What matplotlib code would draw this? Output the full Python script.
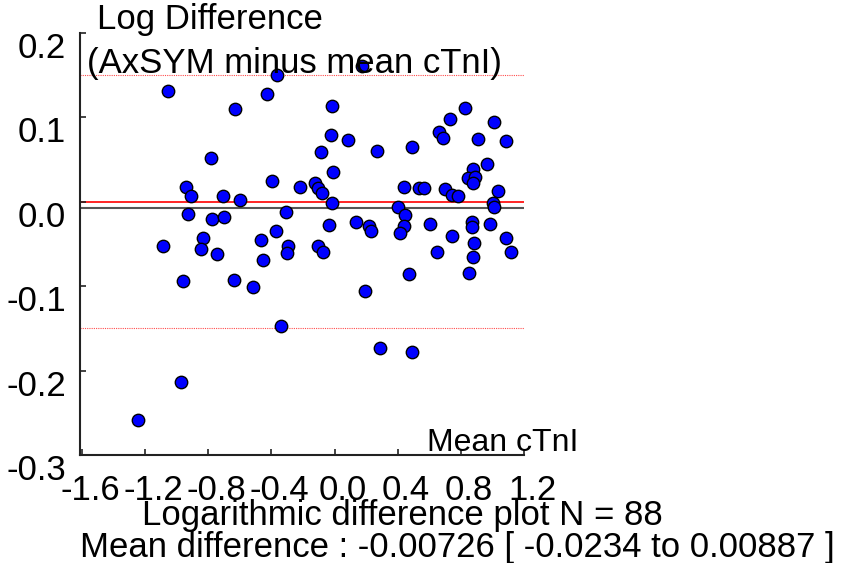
import numpy as np
import matplotlib
matplotlib.use('Agg')
import matplotlib.pyplot as plt
from matplotlib.transforms import ScaledTranslation

plt.rcParams['font.family'] = ['Liberation Sans', 'DejaVu Sans']
plt.rcParams['axes.unicode_minus'] = False

# mean of the two cTnI assays (log scale) and their log difference
mean_ctni = [-1.054, -0.630, -0.782, -0.940, -0.909, -0.706, -0.598, -0.928, -0.776, -0.700,
             -0.833, -1.086, -0.845, -0.744, -0.959, -0.636, -0.364, 0.174, -0.427, -0.016,
             -0.022, 0.086, -0.085, 0.269, -0.009, -0.396, -0.218, -0.123, -0.104, -0.079,
             -0.016, -0.307, -0.035, 0.136, 0.219, 0.231, -0.370, -0.465, -0.294, -0.301,
             -0.104, -0.073, -0.453, -0.516, 0.193, 0.827, 0.732, 1.010, 0.662, 0.687,
             0.491, 0.909, 1.086, 0.966, 0.877, 0.846, 0.890, 0.877, 0.440, 0.535,
             0.567, 0.700, 0.744, 0.782, 1.036, 1.004, 1.010, 0.402, 0.447, 0.440,
             0.415, 0.605, 0.871, 0.871, 0.985, 0.744, 0.884, 1.086, 1.118, 0.649,
             0.877, 0.472, 0.852, -0.339, 0.288, 0.491, -0.972, -1.244]
log_diff = [0.131, 0.110, 0.052, 0.018, 0.007, 0.007, 0.002, -0.014, -0.020, -0.018,
            -0.043, -0.052, -0.056, -0.062, -0.094, -0.093, 0.150, 0.161, 0.128, 0.114,
            0.079, 0.073, 0.059, 0.060, 0.035, 0.025, 0.018, 0.022, 0.016, 0.010,
            -0.001, -0.012, -0.027, -0.024, -0.029, -0.035, -0.035, -0.045, -0.052, -0.061,
            -0.052, -0.059, -0.069, -0.101, -0.106, 0.111, 0.098, 0.095, 0.083, 0.076,
            0.065, 0.074, 0.072, 0.045, 0.039, 0.028, 0.029, 0.022, 0.018, 0.016,
            0.016, 0.015, 0.008, 0.007, 0.013, -0.001, -0.006, -0.006, -0.016, -0.029,
            -0.037, -0.026, -0.024, -0.030, -0.026, -0.041, -0.049, -0.043, -0.059, -0.059,
            -0.065, -0.086, -0.084, -0.147, -0.173, -0.178, -0.214, -0.259]

mean_diff = -0.00726
ci_low, ci_high = -0.0234, 0.00887
limits = [-0.15, 0.15]

xticks = [-1.6, -1.2, -0.8, -0.4, 0.0, 0.4, 0.8, 1.2]
yticks = [0.2, 0.1, 0.0, -0.1, -0.2, -0.3]

W, H = 846, 563
fig = plt.figure(figsize=(W / 100, H / 100), dpi=100)
ax = fig.add_axes([80 / W, 1 - 455 / H, 444 / W, 422 / H])

ax.axhline(0.0, color='red', lw=1.2, zorder=1)
ax.axhline(mean_diff, color='#555555', lw=1.5, zorder=1)
for lim in limits:
    ax.axhline(lim, color='red', lw=0.8, ls=(0, (1, 1)), alpha=0.7, zorder=1)

ax.scatter(mean_ctni, log_diff, s=80, c='#0000ff', edgecolors='black', linewidths=1.0, zorder=3)

ax.set_xlim(-1.612, 1.2)
ax.set_ylim(-0.3, 0.2)
ax.set_xticks(xticks)
ax.set_xticklabels(['%.1f' % v for v in xticks])
ax.set_yticks(yticks)
ax.set_yticklabels(['%.1f' % v for v in yticks])

for s in ['top', 'right']:
    ax.spines[s].set_visible(False)
for s in ['left', 'bottom']:
    ax.spines[s].set_linewidth(1.5)
    ax.spines[s].set_color('#222222')

ax.tick_params(axis='both', direction='in', length=4.5, width=1.2, colors='#222222',
               labelcolor='black', labelsize=25)
ax.tick_params(axis='x', pad=14.0)
ax.tick_params(axis='y', pad=10.0)

# labels sit a bit off their ticks
for lab in ax.get_xticklabels():
    lab.set_transform(lab.get_transform() + ScaledTranslation(0.08, 0, fig.dpi_scale_trans))
for lab in ax.get_yticklabels():
    lab.set_transform(lab.get_transform() + ScaledTranslation(0, -0.12, fig.dpi_scale_trans))

fs = 25
fig.text(97 / W, 1 - 20 / H, 'Log Difference', fontsize=fs, ha='left', va='center')
fig.text(87 / W, 1 - 63 / H, '(AxSYM minus mean cTnI)', fontsize=fs, ha='left', va='center')
fig.text(578 / W, 1 - 443 / H, 'Mean cTnI', fontsize=23, ha='right', va='center')
fig.text(402 / W, 1 - 515 / H, 'Logarithmic difference plot N = %d' % len(log_diff),
         fontsize=fs, ha='center', va='center')
fig.text(457 / W, 1 - 547 / H,
         'Mean difference : %.5f [ %.4f to %.5f ]' % (mean_diff, ci_low, ci_high),
         fontsize=fs, ha='center', va='center')

plt.savefig('out.png', dpi=100)
